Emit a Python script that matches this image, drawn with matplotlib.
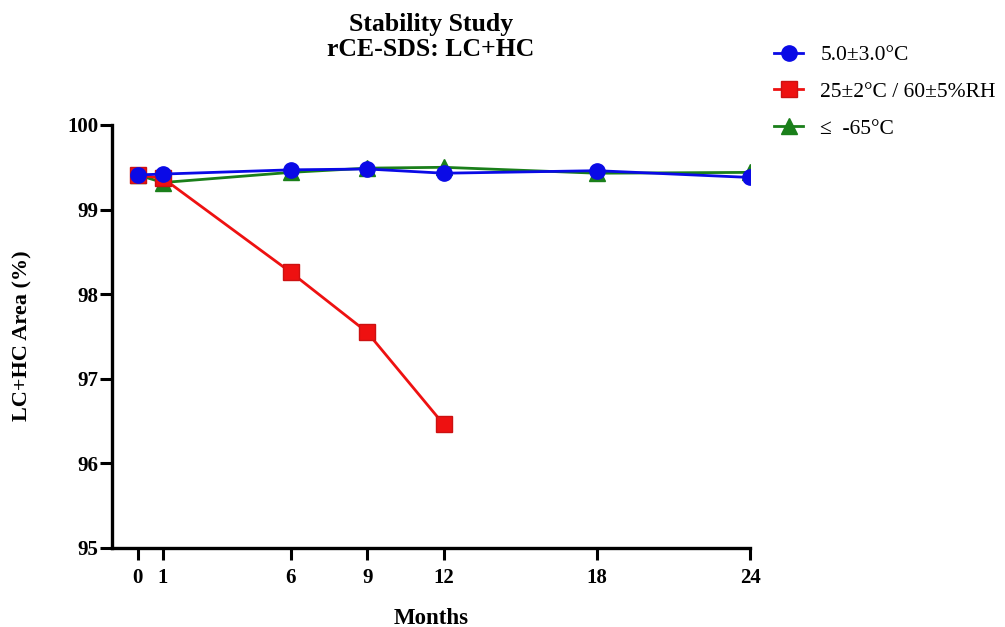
import matplotlib
matplotlib.use("Agg")
import matplotlib.pyplot as plt

plt.rcParams['font.family'] = ['Liberation Serif', 'DejaVu Serif']

months = [0, 1, 6, 9, 12, 18, 24]
cold_5c = [99.41, 99.42, 99.47, 99.48, 99.43, 99.46, 99.38]
months_25c = [0, 1, 6, 9, 12]
accel_25c = [99.41, 99.37, 98.26, 97.55, 96.46]
frozen_65c = [99.41, 99.32, 99.44, 99.49, 99.50, 99.43, 99.44]

labels = ["5.0\u00b13.0\u00b0C", "25\u00b12\u00b0C / 60\u00b15%RH", "\u2264  -65\u00b0C"]
xticks = [0, 1, 6, 9, 12, 18, 24]
yticks = [95, 96, 97, 98, 99, 100]

W, H = 1005, 627
fig = plt.figure(figsize=(W / 100, H / 100), dpi=100)
ax = fig.add_axes([112 / W, 1 - 548 / H, (750 - 112) / W, (548 - 125) / H])

lg, = ax.plot(months, frozen_65c, color='#1a7f1a', marker='^', markersize=11,
              linewidth=2.0, zorder=2)
lr, = ax.plot(months_25c, accel_25c, color='#ee1111', marker='s', markersize=11.5,
              markeredgecolor='#cc1111', linewidth=2.0, zorder=3)
lb, = ax.plot(months, cold_5c, color='#0a0ae6', marker='o', markersize=11,
              linewidth=2.0, zorder=4)

ax.set_xlim(-1, 24)
ax.set_ylim(95, 100)
ax.set_xticks(xticks)
ax.set_yticks(yticks)
ax.set_xticklabels([str(t) for t in xticks], fontweight='bold', fontsize=15)
ax.set_yticklabels([str(t) for t in yticks], fontweight='bold', fontsize=15)
ax.tick_params(direction='out', length=8.5, width=2.2)
ax.tick_params(axis='y', pad=1.5)
ax.tick_params(axis='x', pad=6)

for s in ['top', 'right']:
    ax.spines[s].set_visible(False)
for s in ['left', 'bottom']:
    ax.spines[s].set_linewidth(2.4)

# axis titles and chart title
fig.text(431 / W, 1 - 624 / H, "Months", fontweight='bold', fontsize=16.5,
         ha='center', va='baseline')
fig.text(22 / W, 1 - 336 / H, "LC+HC Area (%)", fontweight='bold', fontsize=16,
         ha='center', va='center', rotation=90)
fig.text(431 / W, 1 - 31 / H, "Stability Study", fontweight='bold', fontsize=18.5,
         ha='center', va='baseline')
fig.text(431 / W, 1 - 56 / H, "rCE-SDS: LC+HC", fontweight='bold', fontsize=18.5,
         ha='center', va='baseline')

fig.legend([lb, lr, lg], labels, loc='upper left', bbox_to_anchor=(774 / W, 1 - 45 / H),
           frameon=False, fontsize=15.5, handlelength=1.35, labelspacing=0.78,
           handletextpad=0.8, borderaxespad=0, borderpad=0)

fig.savefig("out.png", dpi=100)
